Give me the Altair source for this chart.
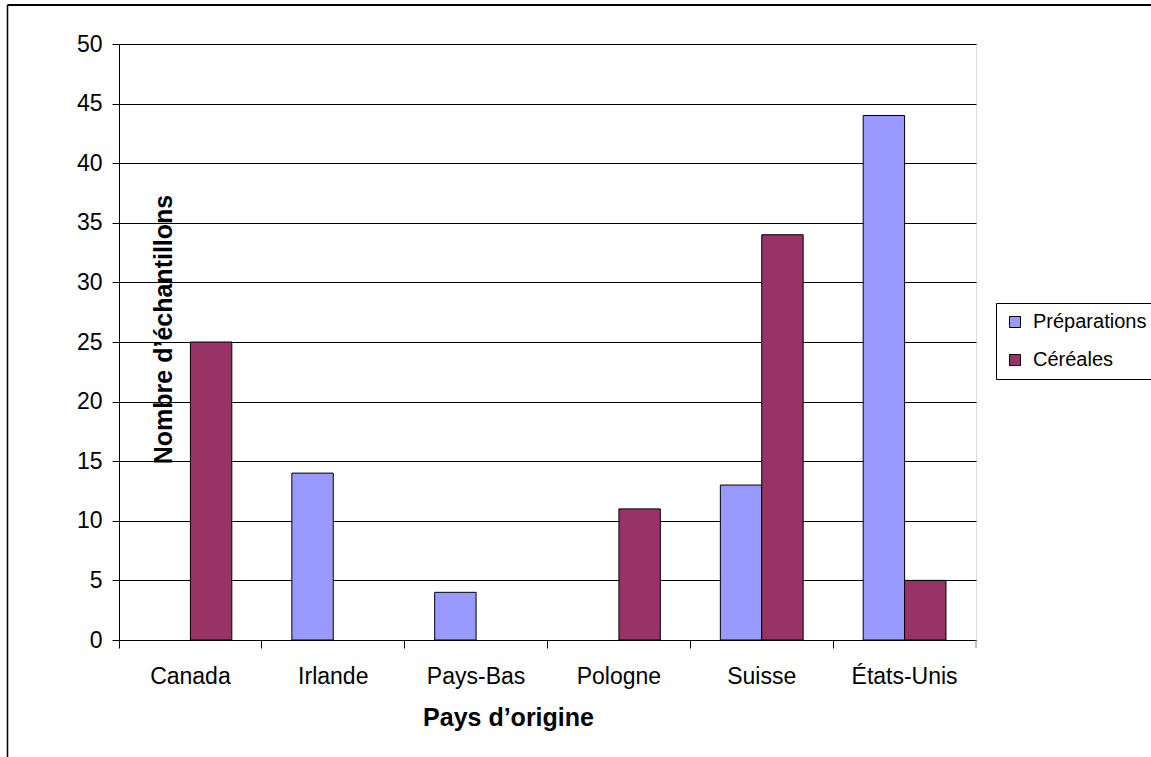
import altair as alt
import pandas as pd

countries = ["Canada", "Irlande", "Pays-Bas", "Pologne", "Suisse", "États-Unis"]
preparations = [0, 14, 4, 0, 13, 44]
cereales = [25, 0, 0, 11, 34, 5]
series = ["Préparations", "Céréales"]
colors = ["#9999FF", "#993366"]
y_ticks = list(range(0, 51, 5))

rows = []
for i, c in enumerate(countries):
    rows.append({"pays": c, "type": series[0], "n": preparations[i]})
    rows.append({"pays": c, "type": series[1], "n": cereales[i]})
df = pd.DataFrame(rows)

FONT = "Liberation Sans"

bars = alt.Chart(df).transform_filter("datum.n > 0").mark_bar(
    stroke="black", strokeWidth=1
).encode(
    x=alt.X(
        "pays:N", sort=countries,
        scale=alt.Scale(paddingInner=0, paddingOuter=0),
        axis=alt.Axis(
            title="Pays d’origine", labelAngle=0, bandPosition=0, tickSize=8,
            labelPadding=35, labelBaseline="alphabetic", labelFontSize=23,
            titleFontSize=25, titleFontWeight="bold", titleBaseline="alphabetic",
            titleX=389, titleY=85, titleAlign="center",
            domainColor="black", tickColor="black", labelColor="black",
            titleColor="black", grid=False, labelFont=FONT, titleFont=FONT,
        ),
    ),
    xOffset=alt.XOffset("type:N", sort=series,
                        scale=alt.Scale(paddingInner=0, paddingOuter=0.725)),
    y=alt.Y(
        "n:Q", scale=alt.Scale(domain=[0, 50]),
        axis=alt.Axis(
            values=y_ticks, title="Nombre d’échantillons", tickSize=7,
            labelPadding=10, labelFontSize=23, labelColor="black",
            domainColor="black", tickColor="black", gridColor="black",
            gridWidth=1, titleAngle=270, titleX=52, titleY=285,
            titleAlign="center", titleBaseline="alphabetic", titleFontSize=25,
            titleFontWeight="bold", titleColor="black", labelFont=FONT,
            titleFont=FONT,
        ),
    ),
    color=alt.Color(
        "type:N", sort=series,
        scale=alt.Scale(domain=series, range=colors),
        legend=alt.Legend(
            title=None, orient="none", legendX=877, legendY=259,
            strokeColor="black", fillColor="white", padding=9,
            symbolType="square", symbolSize=121, symbolStrokeColor="black",
            symbolStrokeWidth=1, symbolOpacity=1, labelFontSize=20,
            labelOffset=8, rowPadding=18, labelColor="black", labelFont=FONT,
        ),
    ),
)

one = alt.Data(values=[{"a": 1}])
top_border = alt.Chart(one).mark_rule(color="black", strokeWidth=2).encode(
    x=alt.value(-111.5), x2=alt.value(1100), y=alt.value(-39)
)
left_border = alt.Chart(one).mark_rule(color="black", strokeWidth=1.5).encode(
    x=alt.value(-111.5), y=alt.value(-39), y2=alt.value(800)
)
end_tick = alt.Chart(one).mark_rule(color="#808080", strokeWidth=1).encode(
    x=alt.value(857), y=alt.value(596), y2=alt.value(604)
)

chart = alt.layer(bars, top_border, left_border, end_tick).properties(
    width=857, height=596, autosize="none",
    padding={"left": 119, "top": 44, "right": 175, "bottom": 117},
    background="white",
).configure_view(stroke="#808080", strokeWidth=1).configure(font=FONT)

chart.save("out.html", embed_options={"renderer": "svg", "actions": False})
